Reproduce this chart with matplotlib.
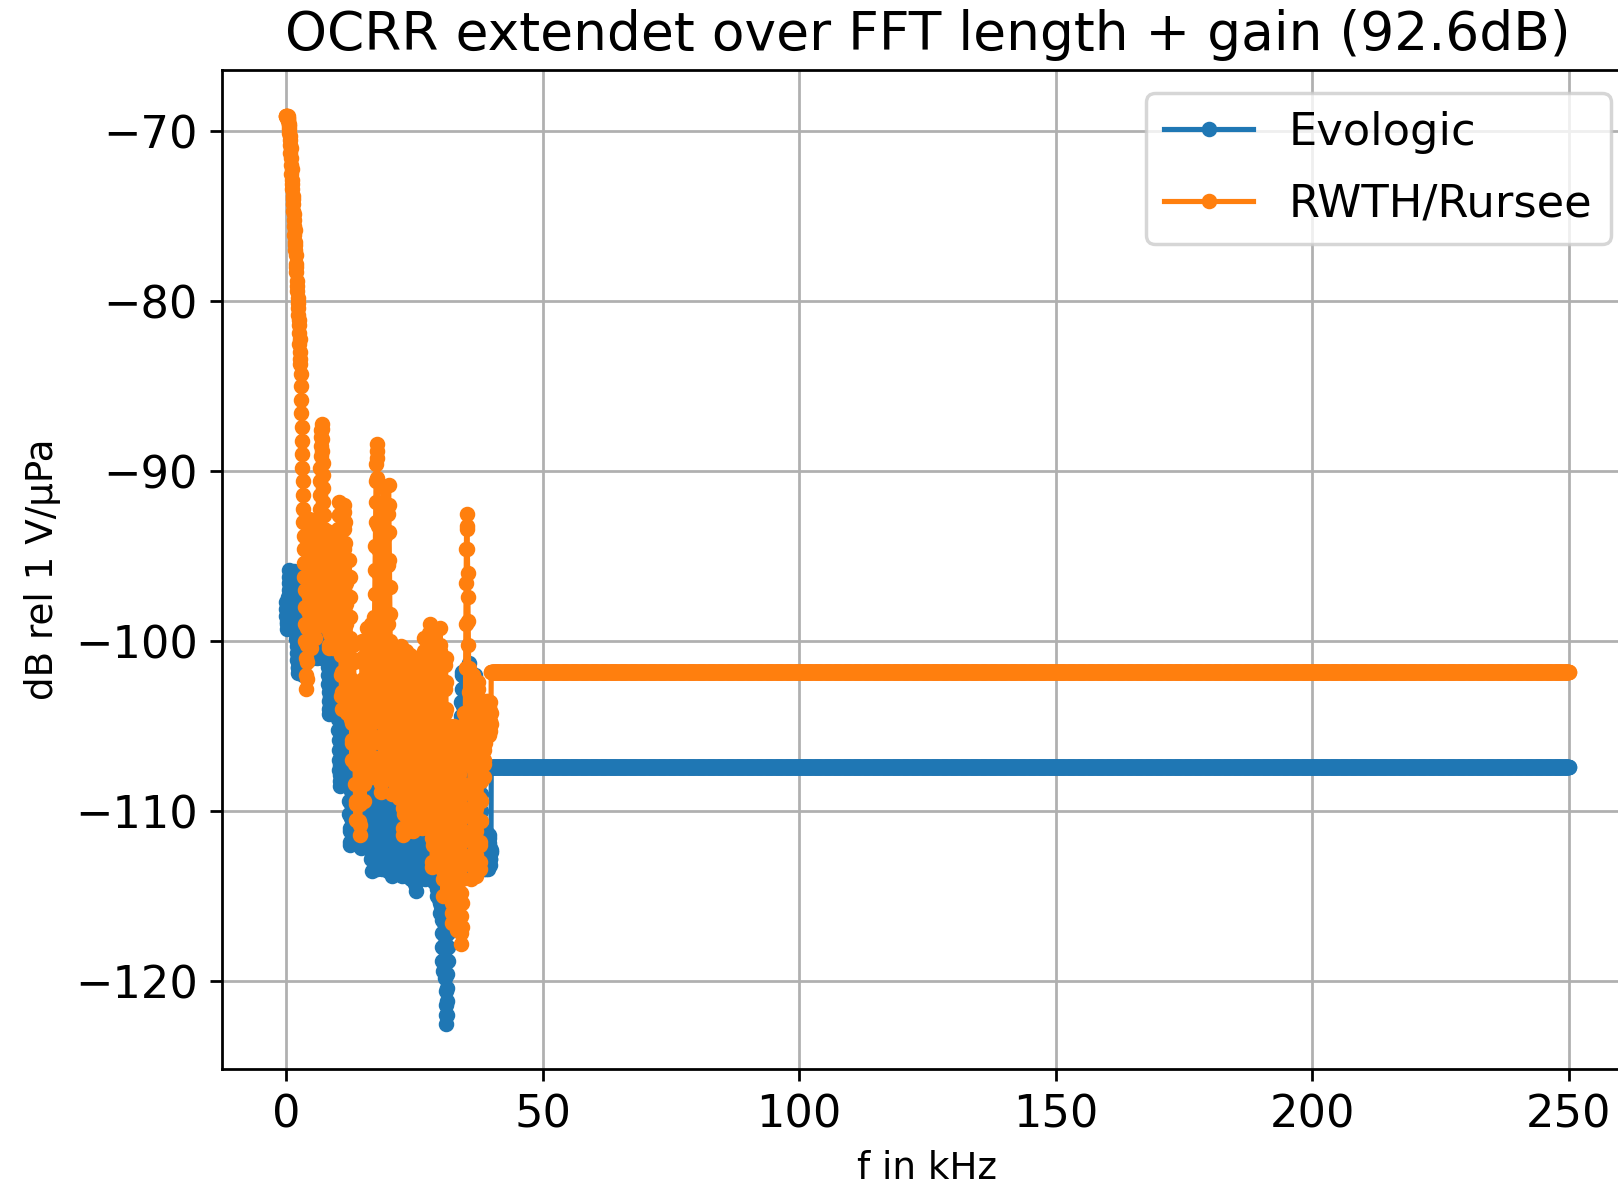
import numpy as np
import matplotlib
matplotlib.use("Agg")
import matplotlib.pyplot as plt

# frequency grid of the FFT (kHz)
FREQ_STEP = 0.05
F_MAX = 250.0

# measured OCRR below 40 kHz, one value per bin (dB rel 1 V/uPa), 1 kHz per row
evologic_measured = [
    -97.7, -98.1, -98.5, -98.9, -99.3, -99.0, -98.6, -98.2, -97.8, -97.4,
    -97.0, -96.6, -96.2, -95.8, -96.1, -96.5, -96.9, -97.3, -97.7, -98.1,
    -98.5, -98.9, -99.2, -98.8, -98.4, -98.0, -97.6, -97.2, -96.8, -96.4,
    -96.0, -95.9, -96.3, -96.7, -97.1, -97.5, -97.9, -98.3, -98.7, -99.1,
    -99.5, -99.9, -100.3, -100.7, -101.1, -101.5, -101.9, -101.6, -101.0, -100.4,
    -99.8, -99.2, -98.6, -98.0, -97.4, -96.8, -96.2, -96.0, -96.6, -97.2,
    -97.8, -98.4, -99.0, -99.6, -100.2, -100.8, -101.4, -102.0, -101.6, -101.0,
    -100.4, -99.8, -99.2, -98.6, -98.0, -97.4, -96.8, -96.4, -97.0, -97.6,
    -98.2, -98.8, -99.4, -99.0, -98.4, -97.8, -97.2, -96.6, -96.0, -95.4,
    -94.8, -94.3, -94.0, -94.4, -95.0, -95.6, -96.2, -96.8, -97.4, -98.0,
    -98.6, -99.2, -99.8, -100.4, -101.0, -100.6, -100.0, -99.4, -98.8, -98.2,
    -97.6, -97.0, -96.6, -97.2, -97.8, -98.4, -99.0, -99.6, -100.2, -100.8,
    -101.0, -100.6, -100.2, -99.8, -99.4, -99.0, -98.6, -98.2, -97.8, -97.4,
    -97.0, -97.4, -97.8, -98.2, -98.6, -99.0, -99.4, -99.8, -100.2, -100.6,
    -101.0, -100.6, -100.1, -99.6, -99.1, -98.6, -98.1, -97.6, -97.2, -97.6,
    -98.1, -98.6, -99.1, -99.6, -100.1, -100.6, -101.0, -100.5, -100.0, -99.5,
    -100.0, -100.5, -101.0, -101.5, -102.0, -102.5, -103.0, -103.5, -104.0, -104.3,
    -103.8, -103.3, -102.8, -102.3, -101.8, -101.3, -100.8, -100.3, -100.0, -100.5,
    -101.0, -101.5, -102.0, -102.5, -103.0, -103.5, -104.0, -104.2, -103.7, -103.2,
    -102.7, -102.2, -101.7, -101.2, -100.7, -100.3, -100.8, -101.3, -101.8, -102.3,
    -102.8, -103.4, -104.0, -104.6, -105.2, -105.8, -106.4, -107.0, -107.6, -108.2,
    -108.5, -107.9, -107.3, -106.7, -106.1, -105.5, -104.9, -104.3, -103.7, -103.1,
    -102.5, -102.0, -102.6, -103.2, -103.8, -104.4, -105.0, -105.6, -106.2, -106.8,
    -107.4, -108.0, -108.4, -107.8, -107.2, -106.6, -106.0, -105.4, -104.8, -104.2,
    -104.6, -105.4, -106.2, -107.0, -107.8, -108.6, -109.4, -110.2, -111.0, -111.8,
    -112.0, -111.2, -110.4, -109.6, -108.8, -108.0, -107.2, -106.4, -105.6, -104.8,
    -104.2, -104.0, -104.8, -105.6, -106.4, -107.2, -108.0, -108.8, -109.6, -110.4,
    -111.2, -111.8, -111.0, -110.2, -109.4, -108.6, -107.8, -107.0, -106.2, -105.4,
    -104.6, -104.2, -105.0, -105.8, -106.6, -107.4, -108.2, -109.0, -109.8, -110.6,
    -111.4, -112.2, -111.6, -110.8, -110.0, -109.2, -108.4, -107.6, -106.8, -106.0,
    -105.2, -104.4, -105.2, -106.0, -106.8, -107.6, -108.4, -109.2, -110.0, -110.8,
    -111.6, -112.0, -111.2, -110.4, -109.6, -108.8, -108.0, -107.2, -106.4, -105.6,
    -104.8, -104.0, -103.2, -102.8, -103.8, -104.8, -105.8, -106.8, -107.8, -108.8,
    -109.8, -110.8, -111.8, -112.8, -113.5, -112.6, -111.6, -110.6, -109.6, -108.6,
    -107.6, -106.6, -105.6, -104.6, -103.6, -103.0, -104.0, -105.0, -106.0, -107.0,
    -108.0, -109.0, -110.0, -111.0, -112.0, -113.0, -113.4, -112.4, -111.4, -110.4,
    -109.4, -108.4, -107.4, -106.4, -105.4, -104.4, -103.5, -104.4, -105.4, -106.4,
    -107.4, -108.4, -109.4, -110.4, -111.4, -112.4, -113.4, -112.6, -111.6, -110.6,
    -109.6, -108.6, -107.6, -106.6, -105.6, -104.6, -104.0, -105.0, -106.0, -107.0,
    -108.0, -109.0, -110.0, -111.0, -112.0, -113.0, -113.5, -112.6, -111.6, -110.6,
    -109.6, -108.6, -107.6, -107.0, -107.6, -108.3, -109.0, -109.7, -110.4, -111.1,
    -111.8, -112.5, -113.2, -113.8, -113.2, -112.5, -111.8, -111.1, -110.4, -109.7,
    -109.0, -108.3, -107.6, -107.2, -107.9, -108.6, -109.3, -110.0, -110.7, -111.4,
    -112.1, -112.8, -113.5, -113.6, -112.9, -112.2, -111.5, -110.8, -110.1, -109.4,
    -108.7, -108.0, -107.8, -108.5, -109.2, -109.9, -110.6, -111.3, -112.0, -112.7,
    -113.4, -113.8, -113.1, -112.4, -111.7, -111.0, -110.3, -109.6, -108.9, -108.2,
    -108.0, -108.7, -109.4, -110.1, -110.8, -111.5, -112.2, -112.9, -113.6, -113.8,
    -113.1, -112.4, -111.7, -111.0, -110.3, -109.6, -108.9, -108.2, -108.4, -109.1,
    -109.8, -110.5, -111.2, -111.9, -112.6, -113.3, -114.0, -113.4, -112.8, -112.1,
    -111.4, -110.7, -110.0, -109.3, -108.6, -108.0, -108.7, -109.4, -110.1, -110.8,
    -111.5, -112.2, -112.9, -113.6, -114.3, -114.7, -114.0, -113.3, -112.6, -111.9,
    -111.2, -110.5, -109.8, -109.1, -108.4, -108.2, -108.9, -109.6, -110.3, -111.0,
    -111.7, -112.4, -113.1, -113.8, -113.9, -113.2, -112.5, -111.8, -111.1, -110.4,
    -109.7, -109.0, -108.3, -108.0, -108.7, -109.4, -110.1, -110.8, -111.5, -112.2,
    -112.9, -113.6, -114.0, -113.3, -112.6, -111.9, -111.2, -110.5, -109.8, -109.1,
    -108.4, -108.6, -109.3, -110.0, -110.7, -111.4, -112.1, -112.8, -113.5, -113.8,
    -113.1, -112.4, -111.7, -111.0, -110.3, -109.6, -108.9, -108.2, -108.8, -109.6,
    -110.4, -111.2, -112.0, -112.8, -113.6, -114.2, -113.6, -112.8, -112.0, -111.2,
    -110.4, -109.6, -109.0, -109.8, -110.6, -111.4, -112.2, -113.0, -113.8, -114.6,
    -115.0, -114.2, -113.4, -112.6, -112.0, -112.8, -113.6, -114.4, -115.2, -116.0,
    -115.4, -114.6, -113.8, -113.2, -114.0, -114.8, -115.6, -116.4, -117.2, -118.0,
    -118.8, -119.4, -118.8, -118.0, -117.2, -116.4, -115.8, -116.6, -117.4, -118.2,
    -119.0, -119.8, -120.6, -121.4, -122.0, -122.5, -122.0, -121.2, -120.4, -119.6,
    -118.8, -118.0, -117.2, -116.4, -115.6, -114.8, -114.0, -113.2, -112.4, -111.6,
    -110.8, -110.0, -109.2, -108.4, -107.6, -107.2, -108.0, -108.8, -109.6, -110.4,
    -111.2, -112.0, -112.8, -113.6, -114.0, -113.2, -112.4, -111.6, -110.8, -110.0,
    -109.2, -108.4, -107.6, -107.4, -108.2, -109.0, -109.8, -110.6, -111.4, -112.2,
    -113.0, -113.8, -113.2, -112.4, -111.6, -110.8, -110.0, -109.2, -108.4, -107.6,
    -106.8, -106.0, -105.2, -104.4, -103.6, -102.8, -102.0, -101.8, -102.8, -103.8,
    -104.8, -105.8, -106.8, -107.8, -108.8, -109.8, -110.8, -111.8, -112.8, -113.0,
    -112.0, -111.0, -110.0, -109.0, -108.0, -107.0, -106.0, -105.0, -104.0, -103.0,
    -102.2, -101.6, -101.3, -101.8, -102.8, -103.8, -104.8, -105.8, -106.8, -107.8,
    -108.8, -109.8, -110.8, -111.8, -112.8, -113.3, -112.4, -111.4, -110.4, -109.4,
    -108.4, -107.4, -106.4, -105.4, -104.4, -103.6, -102.6, -102.0, -103.0, -104.0,
    -105.0, -106.0, -107.0, -108.0, -109.0, -110.0, -111.0, -112.0, -113.0, -113.3,
    -112.4, -111.4, -110.4, -109.4, -108.4, -107.4, -106.4, -106.0, -107.0, -108.0,
    -109.0, -110.0, -111.0, -112.0, -113.0, -113.3, -112.6, -111.8, -111.2, -111.8,
    -112.4, -113.0, -113.4, -112.8, -112.2, -111.6, -111.2, -111.7, -112.3, -112.9,
    -113.4, -113.0, -112.4, -111.8, -111.3, -111.7, -112.3, -112.9, -113.4, -113.1,
    -112.5, -111.9, -111.4, -111.6, -112.2, -112.8, -113.2, -112.8, -112.4, -112.3,
]

rwth_measured = [
    -69.1, -69.1, -69.1, -69.1, -69.2, -69.1, -69.1, -69.2, -69.4, -69.3,
    -69.6, -69.9, -69.7, -70.1, -70.5, -70.3, -70.8, -71.3, -71.0, -71.6,
    -72.0, -72.5, -72.2, -72.9, -73.4, -73.1, -73.8, -74.3, -74.0, -74.7,
    -75.2, -74.9, -75.6, -76.1, -75.8, -76.5, -77.0, -76.7, -77.3, -77.8,
    -78.3, -78.0, -78.8, -79.4, -79.1, -79.8, -80.4, -80.1, -80.8, -81.4,
    -81.1, -81.9, -82.5, -82.2, -83.0, -83.7, -83.4, -84.3, -85.0, -85.8,
    -86.6, -87.4, -88.2, -89.0, -89.8, -90.6, -91.4, -92.2, -93.0, -93.8,
    -94.6, -95.4, -96.2, -97.0, -98.0, -99.0, -100.0, -101.0, -102.0, -102.8,
    -102.2, -101.2, -100.2, -99.2, -98.2, -97.2, -96.2, -95.2, -94.2, -93.4,
    -92.8, -93.6, -94.6, -95.6, -96.6, -97.6, -98.6, -99.6, -100.4, -99.6,
    -98.6, -97.6, -96.6, -95.6, -94.6, -93.6, -92.9, -93.8, -94.8, -95.8,
    -96.8, -97.8, -98.8, -99.8, -99.2, -98.2, -97.2, -96.2, -95.2, -94.4,
    -95.4, -96.4, -97.4, -98.4, -99.0, -98.0, -97.0, -96.0, -95.0, -94.0,
    -93.0, -92.2, -91.4, -90.6, -89.8, -89.1, -88.5, -88.0, -87.6, -87.2,
    -87.5, -88.1, -88.8, -89.5, -90.2, -91.0, -91.8, -92.6, -93.4, -94.2,
    -95.0, -95.8, -96.6, -97.4, -98.2, -99.0, -98.2, -97.2, -96.2, -95.2,
    -94.2, -93.5, -94.4, -95.4, -96.4, -97.4, -98.4, -99.4, -100.2, -100.4,
    -99.6, -98.6, -97.6, -96.6, -95.6, -94.6, -93.8, -94.6, -95.6, -96.6,
    -97.6, -98.6, -99.6, -100.4, -99.8, -98.8, -97.8, -96.8, -95.8, -94.8,
    -94.0, -95.0, -96.0, -97.0, -98.0, -99.0, -100.0, -100.3, -99.3, -98.3,
    -97.3, -96.3, -95.3, -94.3, -93.4, -92.6, -91.8, -92.6, -93.6, -94.8,
    -96.0, -97.2, -98.4, -99.6, -100.8, -102.0, -103.2, -104.0, -103.0, -101.8,
    -100.6, -99.4, -98.2, -97.0, -95.8, -94.6, -93.4, -92.4, -92.0, -93.0,
    -94.2, -95.4, -96.6, -97.8, -99.0, -100.2, -101.4, -102.6, -103.6, -104.2,
    -103.4, -102.2, -101.0, -99.8, -98.6, -97.4, -96.2, -95.2, -96.2, -97.4,
    -98.6, -99.8, -101.0, -102.2, -103.4, -104.6, -105.8, -107.0, -106.0, -104.8,
    -103.6, -102.4, -101.2, -100.2, -101.2, -102.4, -103.6, -104.8, -106.0, -107.2,
    -108.4, -109.4, -110.5, -109.6, -108.4, -107.2, -106.0, -104.8, -103.6, -102.4,
    -103.6, -104.8, -106.0, -107.2, -108.4, -109.6, -110.6, -111.4, -110.8, -109.6,
    -108.4, -107.2, -106.0, -104.8, -103.6, -102.4, -101.2, -100.0, -101.0, -102.2,
    -103.4, -104.6, -105.8, -107.0, -108.2, -109.4, -108.4, -107.2, -106.0, -104.8,
    -103.6, -102.4, -101.2, -100.0, -99.2, -100.0, -101.2, -102.4, -103.6, -104.8,
    -106.0, -107.2, -108.0, -107.0, -105.8, -104.6, -103.4, -102.2, -101.0, -99.8,
    -99.0, -100.0, -101.2, -102.4, -103.6, -104.8, -106.0, -107.2, -108.0, -106.8,
    -105.6, -104.2, -102.8, -101.4, -100.0, -98.6, -97.2, -95.8, -94.4, -93.0,
    -91.8, -90.6, -89.6, -88.8, -88.4, -89.2, -90.4, -91.8, -93.2, -94.6,
    -96.0, -97.4, -98.8, -100.2, -101.6, -103.0, -104.4, -105.8, -107.2, -108.4,
    -108.9, -107.6, -106.0, -104.4, -102.8, -101.2, -99.6, -98.0, -96.4, -94.8,
    -93.2, -91.8, -91.0, -92.2, -93.8, -95.4, -97.0, -98.6, -100.2, -101.8,
    -103.4, -105.0, -106.6, -108.0, -106.4, -104.4, -102.0, -99.0, -95.5, -92.5,
    -90.8, -92.0, -93.6, -95.2, -96.8, -98.4, -100.0, -101.6, -103.2, -104.8,
    -106.4, -108.0, -109.0, -108.0, -106.6, -105.2, -103.8, -102.4, -101.0, -100.5,
    -101.6, -102.8, -104.0, -105.2, -106.4, -107.6, -108.8, -108.2, -107.0, -105.8,
    -104.6, -103.4, -102.2, -101.2, -102.4, -103.6, -104.8, -106.0, -107.2, -108.4,
    -109.2, -108.0, -106.8, -105.6, -104.4, -103.2, -102.0, -100.8, -100.3, -101.4,
    -102.6, -103.8, -105.0, -106.2, -107.4, -108.6, -109.8, -111.0, -111.4, -110.2,
    -109.0, -107.8, -106.6, -105.4, -104.2, -103.0, -101.8, -100.6, -101.6, -102.8,
    -104.0, -105.2, -106.4, -107.6, -108.8, -110.0, -111.2, -110.4, -109.2, -108.0,
    -106.8, -105.6, -104.4, -103.2, -102.0, -100.8, -101.6, -102.8, -104.0, -105.2,
    -106.4, -107.6, -108.8, -110.0, -111.2, -110.4, -109.2, -108.0, -106.8, -105.6,
    -104.4, -103.2, -102.0, -101.0, -102.2, -103.4, -104.6, -105.8, -107.0, -108.2,
    -109.4, -110.6, -111.0, -109.8, -108.6, -107.4, -106.2, -105.0, -103.8, -102.6,
    -101.4, -101.3, -102.6, -103.8, -105.0, -106.2, -107.4, -108.6, -109.8, -111.0,
    -110.2, -109.0, -107.8, -106.6, -105.4, -104.2, -103.0, -101.8, -100.6, -99.8,
    -100.8, -102.0, -103.2, -104.4, -105.6, -106.8, -108.0, -109.2, -110.4, -111.0,
    -109.8, -108.6, -107.4, -106.2, -105.0, -103.8, -102.6, -101.4, -100.2, -99.5,
    -99.0, -100.4, -101.8, -103.2, -104.6, -106.0, -107.4, -108.8, -110.2, -111.6,
    -113.0, -113.3, -112.0, -110.6, -109.2, -107.8, -106.4, -105.0, -103.6, -102.2,
    -100.8, -99.5, -100.2, -101.6, -103.0, -104.4, -105.8, -107.2, -108.6, -110.0,
    -111.4, -112.6, -111.4, -110.0, -108.6, -107.2, -105.8, -104.4, -103.0, -101.6,
    -100.2, -99.2, -100.6, -102.2, -103.8, -105.4, -107.0, -108.6, -110.2, -111.8,
    -113.4, -115.0, -114.0, -112.6, -111.2, -109.8, -108.4, -107.0, -105.6, -104.2,
    -102.8, -101.4, -101.0, -102.4, -104.0, -105.6, -107.2, -108.8, -110.4, -112.0,
    -113.6, -114.6, -113.2, -111.8, -110.4, -109.0, -107.6, -106.2, -105.0, -106.2,
    -107.6, -109.0, -110.4, -111.8, -113.2, -114.6, -116.0, -116.6, -115.4, -114.0,
    -112.6, -111.2, -109.8, -108.4, -107.0, -105.6, -105.0, -106.2, -107.6, -109.0,
    -110.4, -111.8, -113.2, -114.6, -116.0, -117.0, -116.0, -114.6, -113.2, -111.8,
    -110.4, -109.0, -107.6, -106.2, -105.2, -106.4, -107.8, -109.2, -110.6, -112.0,
    -113.4, -114.8, -116.2, -117.2, -117.8, -116.8, -115.4, -114.0, -112.6, -111.2,
    -109.8, -108.4, -107.0, -105.6, -104.2, -105.4, -106.6, -105.4, -104.8, -104.2,
    -101.6, -99.0, -96.6, -94.6, -93.2, -92.5, -93.4, -94.6, -96.0, -97.4,
    -98.8, -100.2, -101.6, -103.0, -104.4, -105.8, -107.2, -108.6, -110.0, -111.4,
    -112.8, -114.0, -113.0, -111.6, -110.2, -108.8, -107.4, -106.0, -104.6, -103.2,
    -102.0, -103.2, -104.6, -106.0, -107.4, -108.8, -110.2, -111.6, -113.0, -113.8,
    -112.6, -111.2, -109.8, -108.4, -107.0, -105.6, -104.2, -102.8, -102.4, -103.6,
    -105.0, -106.4, -107.8, -109.2, -110.6, -112.0, -113.4, -113.0, -111.8, -110.6,
    -109.4, -108.2, -107.0, -105.8, -104.8, -104.0, -103.6, -104.2, -105.0, -105.6,
    -106.4, -107.2, -108.0, -107.0, -106.0, -105.2, -104.4, -103.8, -103.5, -104.0,
    -104.6, -105.2, -105.5, -105.0, -104.4, -103.8, -103.5, -104.0, -104.6, -105.2,
    -105.5, -105.0, -104.4, -103.9, -103.6, -104.1, -104.7, -105.3, -104.9, -104.2,
]

# level used to extend each curve up to the full FFT length
evologic_pad = -107.4
rwth_pad = -101.8


def extend(measured, pad, n):
    return np.concatenate([measured, np.full(n - len(measured), pad)])


n_bins = int(round(F_MAX / FREQ_STEP)) + 1
freq = np.arange(n_bins) * FREQ_STEP

evologic = extend(evologic_measured, evologic_pad, n_bins)
rwth = extend(rwth_measured, rwth_pad, n_bins)

fig = plt.figure(figsize=(1618 / 248, 1190 / 248), dpi=248)
ax = fig.add_axes([0.1371, 0.1017, 0.8722, 0.8391])

ax.plot(freq, evologic, '.-', markersize=7, label='Evologic')
ax.plot(freq, rwth, '.-', markersize=7, label='RWTH/Rursee')

ax.set_title('OCRR extendet over FFT length + gain (92.6dB)', fontsize=15.5)
ax.set_xlabel('f in kHz', fontsize=10.8)
ax.set_ylabel('dB rel 1 V/µPa', fontsize=10.8)
ax.tick_params(labelsize=13)
ax.grid(True)
ax.legend(loc='upper right', fontsize=13, labelspacing=0.65)

fig.savefig('out.png', dpi=248)
